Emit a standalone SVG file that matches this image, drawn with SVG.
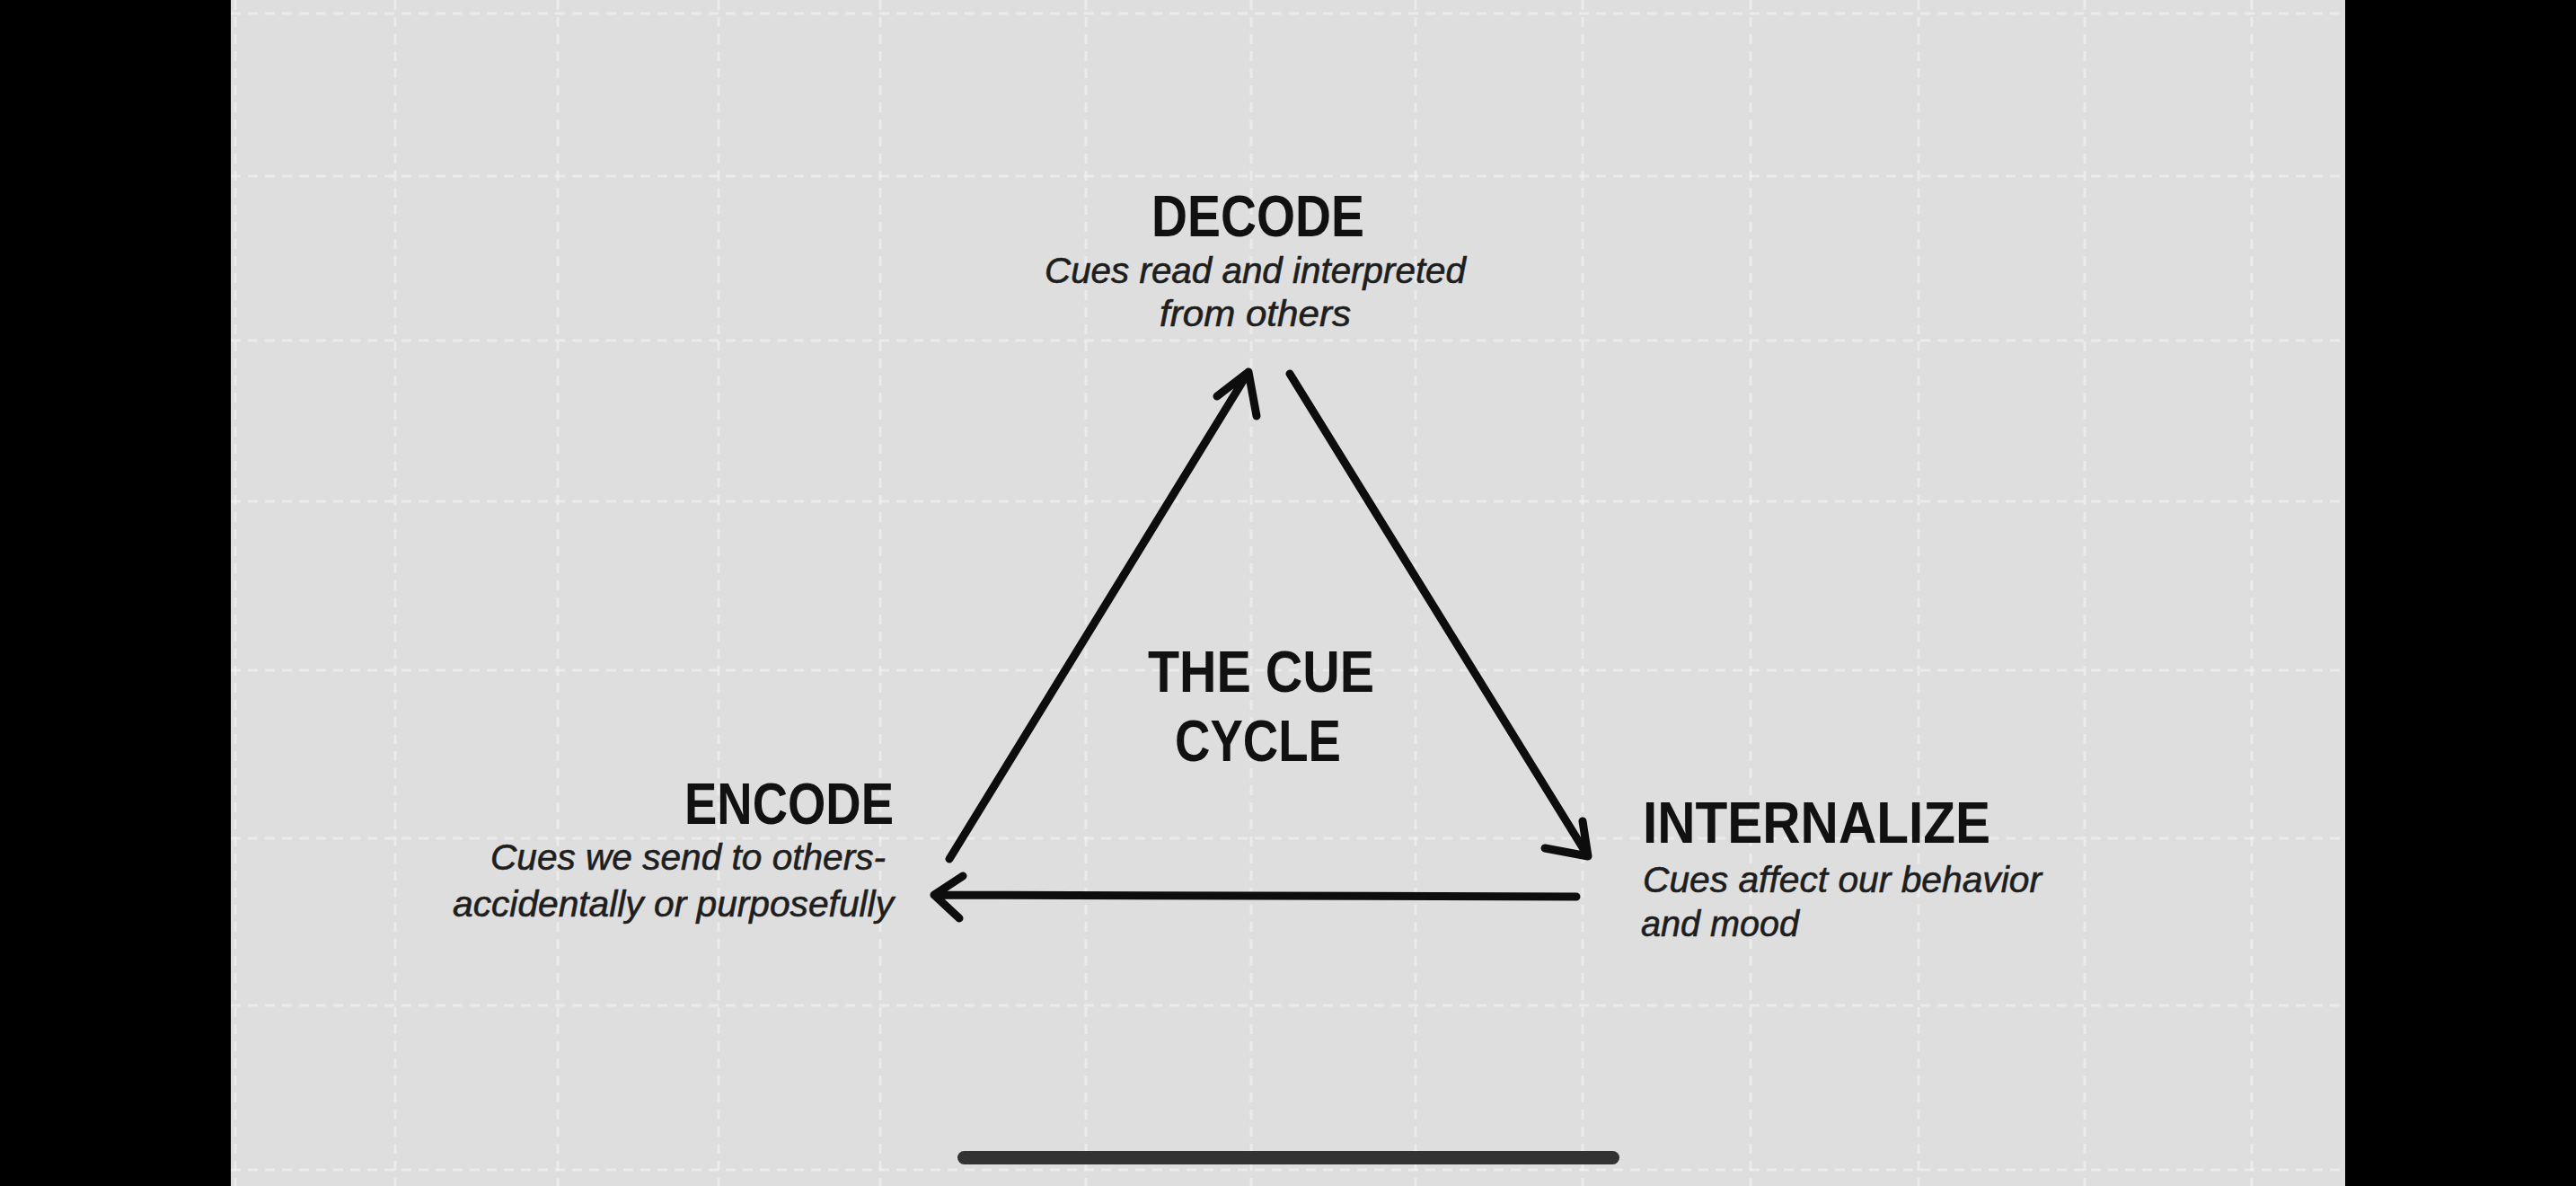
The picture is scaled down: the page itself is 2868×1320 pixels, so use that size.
<svg xmlns="http://www.w3.org/2000/svg" width="2868" height="1320" viewBox="0 0 2868 1320">
<style>
.bg{fill:#dedede}
.bar{fill:#000}
.grid line{stroke:#f6f6f6;stroke-width:3;stroke-dasharray:11 8;opacity:0.55}
.title{font-family:"Liberation Sans","DejaVu Sans",sans-serif;font-weight:bold;font-size:64px;fill:#111}
.sub{font-family:"Liberation Sans","DejaVu Sans",sans-serif;font-style:italic;font-size:40px;fill:#1e1e1e;stroke:#1e1e1e;stroke-width:0.6}
.conn path{fill:none;stroke:#0d0d0d;stroke-width:9;stroke-linecap:round;stroke-linejoin:round}
.home{fill:#333}
</style>
<rect class="bg" x="0" y="0" width="2868" height="1320"/>
<g class="grid">
<line x1="262" y1="0" x2="262" y2="1320"/>
<line x1="440" y1="0" x2="440" y2="1320"/>
<line x1="621" y1="0" x2="621" y2="1320"/>
<line x1="800" y1="0" x2="800" y2="1320"/>
<line x1="980" y1="0" x2="980" y2="1320"/>
<line x1="1209" y1="0" x2="1209" y2="1320"/>
<line x1="1393" y1="0" x2="1393" y2="1320"/>
<line x1="1576" y1="0" x2="1576" y2="1320"/>
<line x1="1762" y1="0" x2="1762" y2="1320"/>
<line x1="1949" y1="0" x2="1949" y2="1320"/>
<line x1="2136" y1="0" x2="2136" y2="1320"/>
<line x1="2321" y1="0" x2="2321" y2="1320"/>
<line x1="2507" y1="0" x2="2507" y2="1320"/>
<line x1="257" y1="15" x2="2611" y2="15"/>
<line x1="257" y1="196" x2="2611" y2="196"/>
<line x1="257" y1="379" x2="2611" y2="379"/>
<line x1="257" y1="558" x2="2611" y2="558"/>
<line x1="257" y1="746" x2="2611" y2="746"/>
<line x1="257" y1="933" x2="2611" y2="933"/>
<line x1="257" y1="1119" x2="2611" y2="1119"/>
<line x1="257" y1="1302" x2="2611" y2="1302"/>
</g>
<rect class="bar" x="0" y="0" width="257" height="1320"/>
<rect class="bar" x="2611" y="0" width="257" height="1320"/>
<g class="conn" id="connectors">
<path d="M1057 956 L1390 414 M1355 441 L1390 414 L1399 463"/>
<path d="M1436 416 L1768 953 M1720 944 L1768 953 L1762 914"/>
<path d="M1755 998 L1040 996 M1072 975 L1040 996 L1068 1022"/>
</g>
<g id="decode">
<text class="title" x="1282" y="263" textLength="237" lengthAdjust="spacingAndGlyphs">DECODE</text>
<text class="sub" x="1163" y="315" textLength="469" lengthAdjust="spacingAndGlyphs">Cues read and interpreted</text>
<text class="sub" x="1291" y="363" textLength="213" lengthAdjust="spacingAndGlyphs">from others</text>
</g>
<g id="center">
<text class="title" x="1278" y="770" textLength="252" lengthAdjust="spacingAndGlyphs">THE CUE</text>
<text class="title" x="1308" y="847" textLength="185" lengthAdjust="spacingAndGlyphs">CYCLE</text>
</g>
<g id="encode">
<text class="title" x="762" y="917" textLength="233" lengthAdjust="spacingAndGlyphs">ENCODE</text>
<text class="sub" x="546" y="968" textLength="440" lengthAdjust="spacingAndGlyphs">Cues we send to others-</text>
<text class="sub" x="504" y="1020" textLength="491" lengthAdjust="spacingAndGlyphs">accidentally or purposefully</text>
</g>
<g id="internalize">
<text class="title" x="1829" y="938" textLength="387" lengthAdjust="spacingAndGlyphs">INTERNALIZE</text>
<text class="sub" x="1829" y="993" textLength="444" lengthAdjust="spacingAndGlyphs">Cues affect our behavior</text>
<text class="sub" x="1827" y="1042" textLength="176" lengthAdjust="spacingAndGlyphs">and mood</text>
</g>
<rect class="home" x="1066" y="1281" width="737" height="15" rx="7.5"/>
</svg>
